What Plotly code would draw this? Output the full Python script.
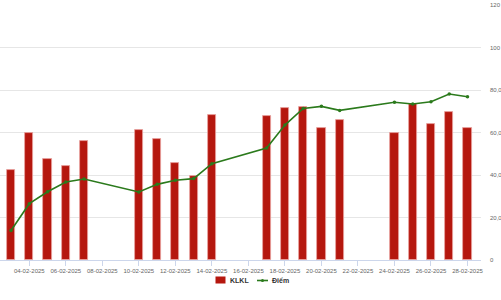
import plotly.graph_objects as go

dates = ["2025-02-03", "2025-02-04", "2025-02-05", "2025-02-06", "2025-02-07",
         "2025-02-10", "2025-02-11", "2025-02-12", "2025-02-13", "2025-02-14",
         "2025-02-17", "2025-02-18", "2025-02-19", "2025-02-20", "2025-02-21",
         "2025-02-24", "2025-02-25", "2025-02-26", "2025-02-27", "2025-02-28"]
klkl = [42.5, 60.0, 47.7, 44.4, 56.0, 61.2, 56.9, 45.6, 39.7, 68.2,
        67.8, 71.5, 72.1, 62.1, 66.0, 59.6, 73.6, 64.0, 69.6, 62.1]
diem = [13.9, 26.5, 32.1, 36.7, 38.1, 32.0, 35.6, 37.5, 38.3, 45.3,
        52.7, 63.5, 71.3, 72.3, 70.4, 74.2, 73.4, 74.5, 78.1, 76.8]
y_ticks = [0, 20, 40, 60, 80, 100, 120]
y_labels = ["0", "20,0", "40,0", "60,0", "80,0", "100", "120"]
series_names = ["KLKL", "Điểm"]

FONT = "Liberation Sans, Arial, sans-serif"
DAY_MS = 86400000
BAR_COLOR = "#b5170e"
LINE_COLOR = "#2b7a1c"

# plot area in pixels: x 0..481, y 5..260
PW, PT, PB = 481.0, 5.0, 260.0
def px(x):
    return x / PW
def py(y):
    return (PB - y) / (PB - PT)

fig = go.Figure()
fig.add_trace(go.Bar(
    x=dates, y=klkl, name=series_names[0],
    width=[0.45 * DAY_MS] * len(dates),
    marker=dict(color=BAR_COLOR, line=dict(color="#e9a3a0", width=0.8)),
    showlegend=False,
))
fig.add_trace(go.Scatter(
    x=dates, y=diem, name=series_names[1], mode="lines+markers",
    line=dict(color=LINE_COLOR, width=1.6),
    marker=dict(color=LINE_COLOR, size=3.5),
    showlegend=False,
))

# legend drawn below the plot
shapes = [
    dict(type="rect", xref="paper", yref="paper",
         x0=px(215.5), x1=px(225.5), y0=py(283.5), y1=py(276.5),
         fillcolor=BAR_COLOR, line=dict(width=0)),
    dict(type="line", xref="paper", yref="paper",
         x0=px(257), x1=px(268), y0=py(280.5), y1=py(280.5),
         line=dict(color=LINE_COLOR, width=1.6)),
    dict(type="circle", xref="paper", yref="paper",
         x0=px(261), x1=px(264), y0=py(282), y1=py(279),
         fillcolor=LINE_COLOR, line=dict(width=0)),
]
annotations = [
    dict(text=series_names[0], xref="paper", yref="paper", x=px(227.5), y=py(280.5),
         xanchor="left", yanchor="middle", showarrow=False,
         font=dict(family=FONT, size=7, color="#333333", weight="bold")),
    dict(text=series_names[1], xref="paper", yref="paper", x=px(269.5), y=py(280.5),
         xanchor="left", yanchor="middle", showarrow=False,
         font=dict(family=FONT, size=7, color="#333333", weight="bold")),
]

fig.update_layout(
    width=501, height=300,
    margin=dict(l=0, r=20, t=5, b=40, autoexpand=False),
    paper_bgcolor="white", plot_bgcolor="white",
    font=dict(family=FONT, size=6, color="#666666"),
    showlegend=False,
    shapes=shapes, annotations=annotations,
    bargap=0,
    xaxis=dict(
        type="date",
        range=["2025-02-02 09:30", "2025-02-28 17:45"],
        tick0="2025-02-04", dtick=2 * DAY_MS,
        tickformat="%d-%m-%Y", tickangle=0,
        showgrid=False, showline=True, linecolor="#ccd6eb", linewidth=1,
        ticks="outside", ticklen=5, tickcolor="#ccd6eb",
        tickfont=dict(family=FONT, size=6, color="#666666"),
        automargin=False, fixedrange=True,
    ),
    yaxis=dict(
        side="right", range=[0, 120],
        tickvals=y_ticks, ticktext=y_labels,
        showgrid=True, gridcolor="#e6e6e6", gridwidth=1,
        zeroline=False, showline=False, ticks="",
        ticklabelstandoff=8,
        tickfont=dict(family=FONT, size=6, color="#666666"),
        automargin=False, fixedrange=True,
    ),
)

fig.write_html("out.html")
